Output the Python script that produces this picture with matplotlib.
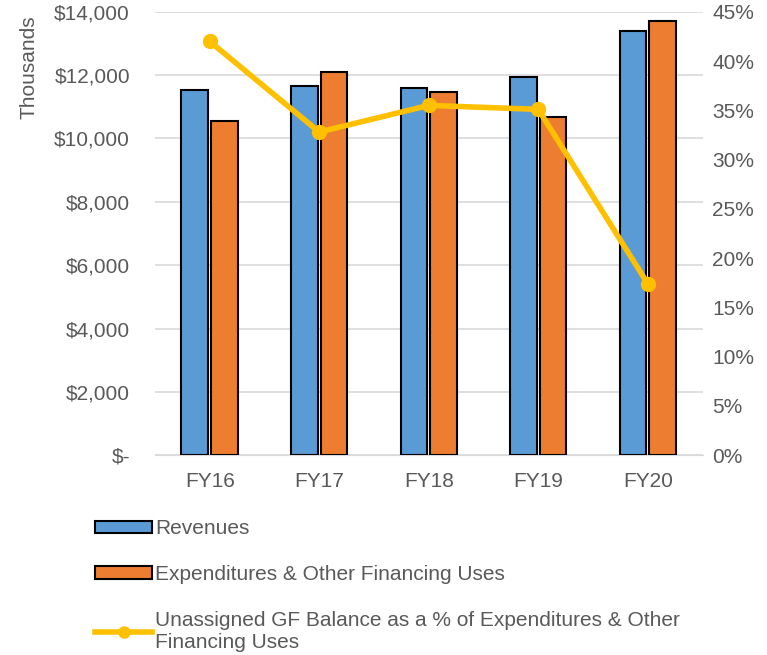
import numpy as np
import matplotlib.pyplot as plt
from matplotlib.patches import Patch
from matplotlib.lines import Line2D

plt.rcParams['font.family'] = ['Liberation Sans', 'DejaVu Sans']

years = ['FY16', 'FY17', 'FY18', 'FY19', 'FY20']
revenues = [11540, 11660, 11600, 11950, 13400]
expenditures = [10560, 12100, 11470, 10680, 13720]
balance_pct = [42.0, 32.8, 35.5, 35.1, 17.4]

grey = '#595959'
blue = '#5B9BD5'
orange = '#ED7D31'
gold = '#FFC000'
fs = 15

fig = plt.figure(figsize=(7.67, 6.55), dpi=100)
ax = fig.add_axes([0.202, 0.305, 0.714, 0.677])
ax2 = ax.twinx()

x = np.arange(len(years))
w = 0.245
ax.bar(x - 0.135, revenues, w, color=blue, edgecolor='black', linewidth=1.5, zorder=3)
ax.bar(x + 0.135, expenditures, w, color=orange, edgecolor='black', linewidth=1.5, zorder=3)

ax.set_ylim(0, 14000)
ax.set_xlim(-0.5, len(years) - 0.5)
ax.set_yticks(np.arange(0, 14001, 2000))
ax.set_yticklabels(['$-' if v == 0 else f'${v:,}' for v in range(0, 14001, 2000)])
ax.set_xticks(x)
ax.set_xticklabels(years)
ax.grid(axis='y', color='#D9D9D9', linewidth=1.2, zorder=0)
ax.set_axisbelow(True)
for s in ['top', 'right', 'left']:
    ax.spines[s].set_visible(False)
ax.spines['bottom'].set_color('#D9D9D9')
ax.tick_params(length=0, labelsize=fs, colors=grey)
ax.tick_params(axis='x', pad=12)
ax.tick_params(axis='y', pad=18)
ax.set_ylabel('Thousands', fontsize=fs, color=grey)
ax.yaxis.set_label_coords(-0.212, 0.876)

ax2.plot(x, balance_pct, color=gold, linewidth=4, marker='o', markersize=10, zorder=4)
ax2.set_ylim(0, 45)
ax2.set_yticks(np.arange(0, 46, 5))
ax2.set_yticklabels([f'{v}%' for v in range(0, 46, 5)])
for s in ['top', 'right', 'left', 'bottom']:
    ax2.spines[s].set_visible(False)
ax2.tick_params(length=0, labelsize=fs, colors=grey, pad=7)

handles = [
    Patch(facecolor=blue, edgecolor='black', linewidth=1.5),
    Patch(facecolor=orange, edgecolor='black', linewidth=1.5),
    Line2D([0], [0], color=gold, linewidth=4, marker='o', markersize=8),
]
labels = ['Revenues', 'Expenditures & Other Financing Uses',
          'Unassigned GF Balance as a % of Expenditures & Other\nFinancing Uses']
fig.legend(handles, labels, loc='upper left', bbox_to_anchor=(0.124, 0.207),
           frameon=False, fontsize=fs, labelcolor=grey, handlelength=2.74,
           handleheight=0.55, handletextpad=0.15, labelspacing=1.28,
           borderpad=0, borderaxespad=0)

fig.savefig('out.png', dpi=100)
